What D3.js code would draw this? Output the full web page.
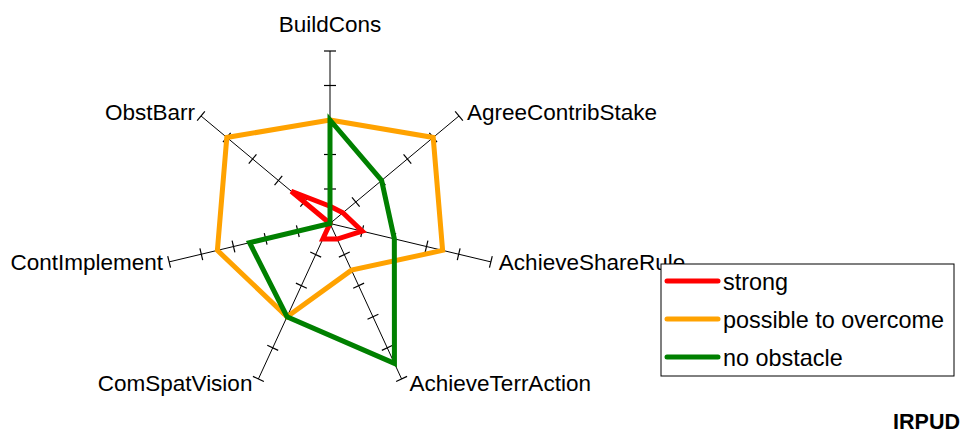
<!DOCTYPE html>
<meta charset="utf-8">
<style>
body { margin: 0; background: #fff; }
text { font-family: "Liberation Sans", Arial, sans-serif; fill: #000; }
</style>
<svg width="968" height="435"></svg>
<script src="https://cdn.jsdelivr.net/npm/d3@7"></script>
<script>
// axes of the radar, clockwise from the top
var axes = ["BuildCons", "AgreeContribStake", "AchieveShareRule", "AchieveTerrAction",
            "ComSpatVision", "ContImplement", "ObstBarr"];
var seriesNames = ["strong", "possible to overcome", "no obstacle"];
var strong   = [0.5, 0.5, 1, 0.5, 0.5, 0, 1.5];
var possible = [3, 4, 3.5, 1.5, 3, 3.5, 4];
var noObst   = [3, 2, 2, 4.5, 3, 2.5, 0];
var tickVals = [1, 2, 3, 4, 5];
var colors = ["#ff0000", "#ffa200", "#008000"];

var svg = d3.select("svg"),
    cx = 330, cy = 223.5;

// the picture is a little narrower than tall
var rx = d3.scaleLinear().domain([0, 5]).range([0, 165]),
    ry = d3.scaleLinear().domain([0, 5]).range([0, 172.5]);

var angle = d3.scaleLinear().domain([0, axes.length]).range([0, 2 * Math.PI]);

function pt(i, v) {
  var a = angle(i);
  return [cx + rx(v) * Math.sin(a), cy - ry(v) * Math.cos(a)];
}

var g = svg.append("g");

// axis lines + ticks
axes.forEach(function(name, i) {
  var end = pt(i, 5);
  g.append("line")
      .attr("x1", cx).attr("y1", cy)
      .attr("x2", end[0]).attr("y2", end[1])
      .attr("stroke", "#000").attr("stroke-width", 1);

  var dx = end[0] - cx, dy = end[1] - cy, len = Math.sqrt(dx * dx + dy * dy);
  var px = -dy / len * 6, py = dx / len * 6;
  tickVals.forEach(function(t) {
    var p = pt(i, t);
    g.append("line")
        .attr("x1", p[0] - px).attr("y1", p[1] - py)
        .attr("x2", p[0] + px).attr("y2", p[1] + py)
        .attr("stroke", "#000").attr("stroke-width", 1.2);
  });

  var a = angle(i), s = Math.sin(a), c = Math.cos(a);
  var anchor = Math.abs(s) < 0.1 ? "middle" : (s > 0 ? "start" : "end");
  var ox = Math.abs(s) < 0.1 ? 0 : (s > 0 ? 8 : -6);
  var oy = c > 0.9 ? -19 : c > 0 ? 4 : c > -0.5 ? 8 : 12;
  g.append("text")
      .attr("x", end[0] + ox).attr("y", end[1] + oy)
      .attr("text-anchor", anchor)
      .style("font-size", "22.5px")
      .text(name);
});

// series polygons
var line = d3.line().curve(d3.curveLinearClosed);
[strong, possible, noObst].forEach(function(vals, k) {
  g.append("path")
      .attr("d", line(vals.map(function(v, i) { return pt(i, v); })))
      .attr("fill", "none")
      .attr("stroke", colors[k])
      .attr("stroke-width", 5)
      .attr("stroke-linejoin", "miter");
});

// legend
var leg = svg.append("g").attr("transform", "translate(661,264)");
leg.append("rect")
    .attr("width", 293).attr("height", 112)
    .attr("fill", "#fff").attr("stroke", "#000").attr("stroke-width", 1);
seriesNames.forEach(function(n, k) {
  var y = 17 + k * 38;
  leg.append("line")
      .attr("x1", 6).attr("x2", 57).attr("y1", y).attr("y2", y)
      .attr("stroke", colors[k]).attr("stroke-width", 5)
      .attr("stroke-linecap", "round");
  leg.append("text")
      .attr("x", 62).attr("y", y + 9)
      .style("font-size", "23.4px")
      .text(n);
});

svg.append("text")
    .attr("x", 960).attr("y", 429)
    .attr("text-anchor", "end")
    .style("font-size", "21.5px").style("font-weight", "bold")
    .text("IRPUD");
</script>
